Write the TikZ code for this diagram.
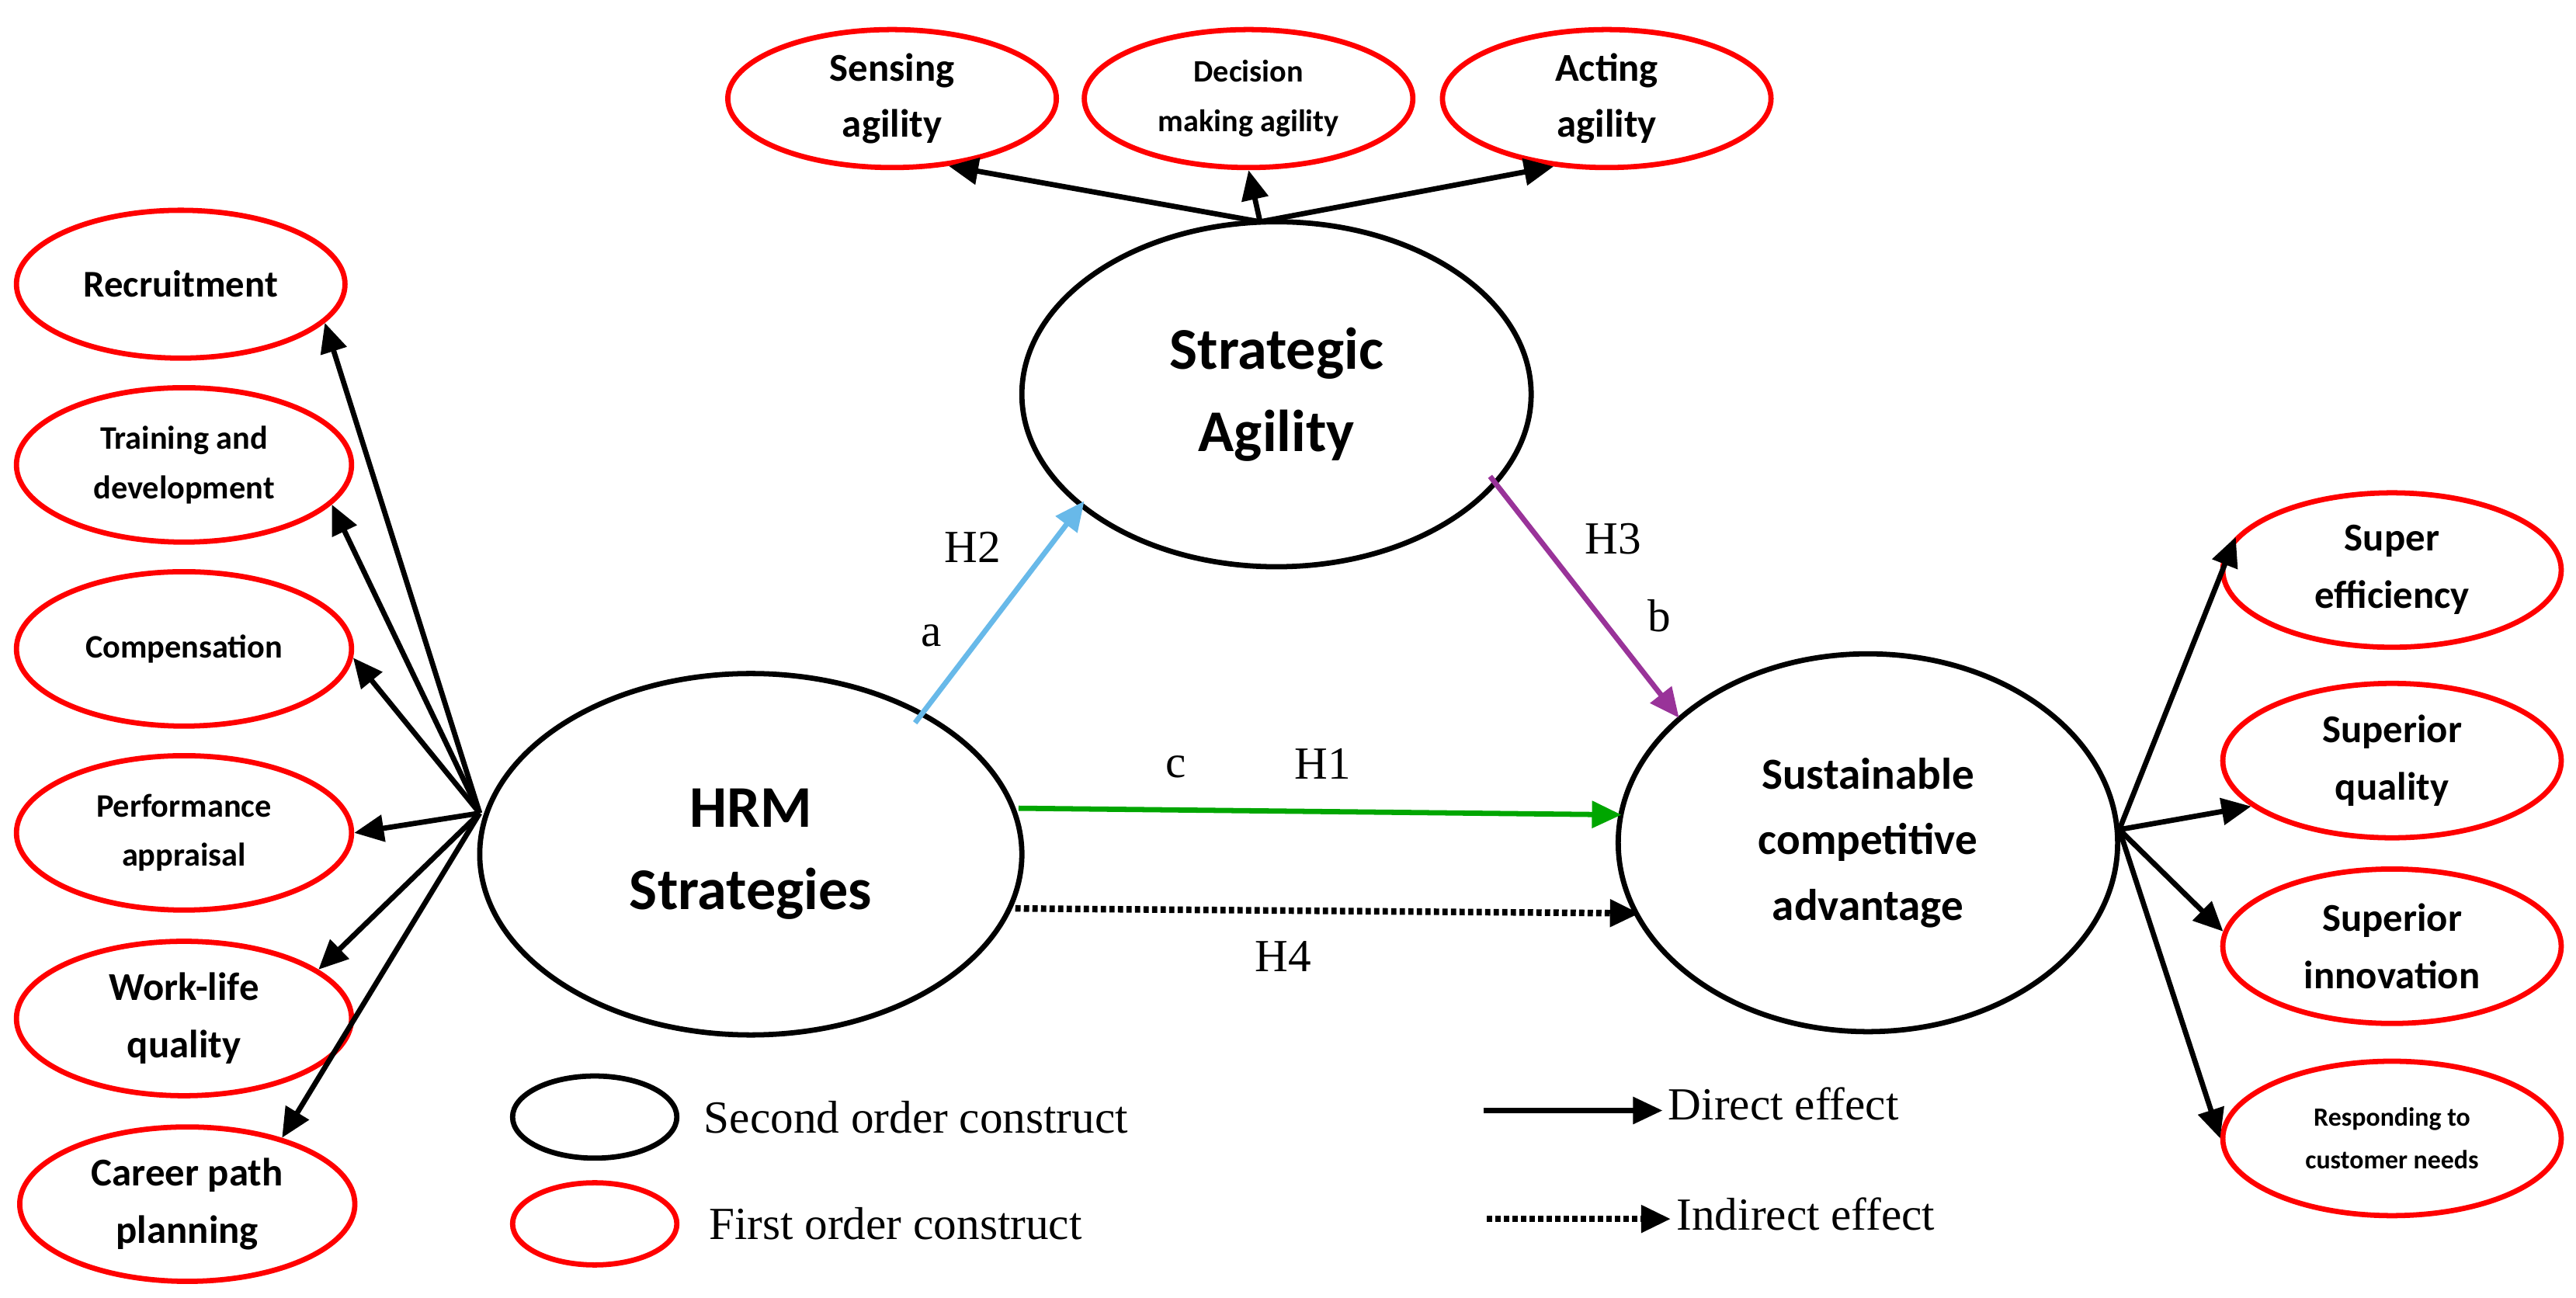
\documentclass[tikz,border=0pt]{standalone}
\usepackage{fontspec}
\setmainfont{Liberation Serif}
\newfontfamily\carfont{Carlito}
\usetikzlibrary{shapes.geometric,arrows.meta}
\begin{document}
\begin{tikzpicture}[x=1pt,y=-1pt,
 el/.style={ellipse,draw,line width=3.2pt,inner sep=0pt,align=center,font=\carfont\bfseries\fontsize{23}{28}\selectfont},
 red/.style={el,draw=red},
 arr/.style={line width=3.2pt,-{Triangle[length=18pt,width=16pt]}},
 lab/.style={font=\fontsize{28}{32}\selectfont}]
\path[use as bounding box] (0,0) rectangle (1568,790);
\node[red,minimum width=200,minimum height=90] (rec) at (110,173) {Recruitment};
\node[red,minimum width=204,minimum height=94,font=\carfont\bfseries\fontsize{20}{30}\selectfont] (tra) at (112,283) {Training and\\development};
\node[red,minimum width=204,minimum height=94,font=\carfont\bfseries\fontsize{20}{30}\selectfont] (com) at (112,395) {Compensation};
\node[red,minimum width=204,minimum height=94,font=\carfont\bfseries\fontsize{20}{30}\selectfont] (per) at (112,507) {Performance\\appraisal};
\node[red,minimum width=204,minimum height=94,font=\carfont\bfseries\fontsize{24}{35}\selectfont] (wor) at (112,620) {Work-life\\quality};
\node[red,minimum width=204,minimum height=94,font=\carfont\bfseries\fontsize{24}{35}\selectfont] (car) at (114,733) {Career path\\planning};
\node[el,minimum width=330,minimum height=220,font=\carfont\bfseries\fontsize{36}{50}\selectfont] (hrm) at (457,520) {HRM\\Strategies};
\node[el,minimum width=310,minimum height=210,font=\carfont\bfseries\fontsize{36}{50}\selectfont] (sa) at (777,240) {Strategic\\Agility};
\node[el,minimum width=304,minimum height=230,font=\carfont\bfseries\fontsize{27}{40}\selectfont] (sca) at (1137,513) {Sustainable\\competitive\\advantage};
\node[red,minimum width=200,minimum height=84,font=\carfont\bfseries\fontsize{24}{34}\selectfont] (sen) at (543,60) {Sensing\\agility};
\node[red,minimum width=200,minimum height=84,font=\carfont\bfseries\fontsize{19}{30}\selectfont] (dec) at (760,60) {Decision\\making agility};
\node[red,minimum width=200,minimum height=84,font=\carfont\bfseries\fontsize{24}{34}\selectfont] (act) at (978,60) {Acting\\agility};
\node[red,minimum width=206,minimum height=94,font=\carfont\bfseries\fontsize{24}{35}\selectfont] (r1) at (1456,347) {Super\\efficiency};
\node[red,minimum width=206,minimum height=94,font=\carfont\bfseries\fontsize{24}{35}\selectfont] (r2) at (1456,463) {Superior\\quality};
\node[red,minimum width=206,minimum height=94,font=\carfont\bfseries\fontsize{24}{35}\selectfont] (r3) at (1456,576) {Superior\\innovation};
\node[red,minimum width=206,minimum height=94,font=\carfont\bfseries\fontsize{16}{26}\selectfont] (r4) at (1456,693) {Responding to\\customer needs};
\coordinate (hl) at (292,495);
\coordinate (ht) at (767,135);
\coordinate (hr) at (1290,505);
\draw[arr] (hl) -- (rec.-15);
\draw[arr] (hl) -- (tra.-15);
\draw[arr] (hl) -- (com.-3);
\draw[arr] (hl) -- (per.0);
\draw[arr] (hl) -- (wor.20);
\draw[arr] (hl) -- (car.35);
\draw[arr] (ht) -- (sen.-50); \draw[arr] (ht) -- (dec.south); \draw[arr] (ht) -- (act.-128);
\draw[arr] (hr) -- (r1.168);
\draw[arr] (hr) -- (r2.198);
\draw[arr] (hr) -- (r3.175);
\draw[arr] (hr) -- (r4.180);
\coordinate (h2s) at (557,440); \coordinate (h2e) at (660,305);
\draw[arr,cyan!80!blue!60] (h2s) -- (h2e);
\coordinate (h3s) at (907,290); \coordinate (h3e) at (1022,437);
\draw[arr,violet!80] (h3s) -- (h3e);
\coordinate (h1s) at (620,492); \coordinate (h1e) at (987,496);
\draw[arr,green!65!black] (h1s) -- (h1e);
\coordinate (h4s) at (618,553); \coordinate (h4e) at (998,556);
\draw[arr,dotted,line width=4pt] (h4s) -- (h4e);
\node[lab] (l1) at (592,333) {H2};
\node[lab] (l2) at (567,387) {a};
\node[lab] (l3) at (982,328) {H3};
\node[lab] (l4) at (1010,375) {b};
\node[lab] (l5) at (716,467) {c};
\node[lab] (l6) at (805,465) {H1};
\node[lab] (l7) at (781,582) {H4};
\node[ellipse,draw,line width=3.2pt,minimum width=100,minimum height=50] (k1) at (362,680) {};
\node[ellipse,draw=red,line width=3.2pt,minimum width=100,minimum height=50] (k2) at (362,745) {};
\node[lab,anchor=west] (t1) at (425,680) {Second order construct};
\node[lab,anchor=west] (t2) at (428,745) {First order construct};
\coordinate (d1) at (903,676); \coordinate (d2) at (1012,676);
\draw[arr] (d1) -- (d2);
\node[lab,anchor=west] (t3) at (1012,672) {Direct effect};
\coordinate (e1) at (905,742); \coordinate (e2) at (1017,742);
\draw[arr,dotted,line width=4pt] (e1) -- (e2);
\node[lab,anchor=west] (t4) at (1017,739) {Indirect effect};
\end{tikzpicture}
\end{document}
